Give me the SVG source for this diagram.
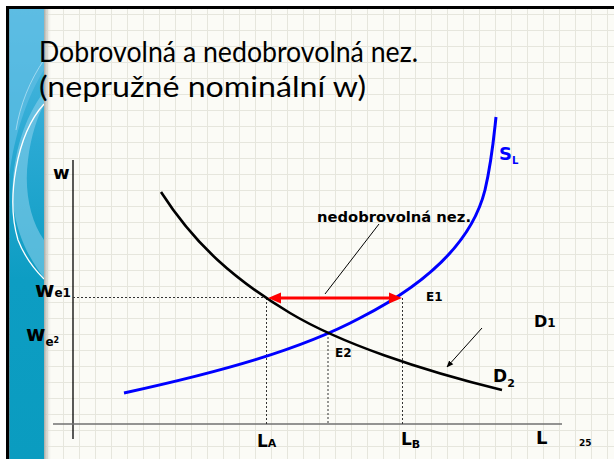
<svg xmlns="http://www.w3.org/2000/svg" width="614" height="459" viewBox="0 0 614 459">
<defs>
<pattern id="grid" patternUnits="userSpaceOnUse" x="47" y="14" width="16" height="16">
<rect x="0" y="0" width="1" height="16" fill="#e6e6dd"/>
<rect x="0" y="0" width="16" height="1" fill="#e6e6dd"/>
</pattern>
<linearGradient id="shadow" x1="0" y1="0" x2="1" y2="0">
<stop offset="0" stop-color="#a9aaa4"/>
<stop offset="1" stop-color="#fbfbf6" stop-opacity="0"/>
</linearGradient>
<linearGradient id="panel" x1="0" y1="0" x2="0" y2="1">
<stop offset="0" stop-color="#58bbe2"/>
<stop offset="0.3" stop-color="#2aa9d3"/>
<stop offset="0.6" stop-color="#0d9dc3"/>
<stop offset="1" stop-color="#0a9cc0"/>
</linearGradient>
<marker id="arr" viewBox="0 0 10 10" refX="9" refY="5" markerWidth="7" markerHeight="7" orient="auto">
<path d="M0,1 L10,5 L0,9 Z" fill="#000"/>
</marker>
<style>
.lbl{font-family:"DejaVu Sans",Verdana,sans-serif;font-weight:bold;fill:#000}
.title{font-family:Lato,"Open Sans",sans-serif;fill:#000}
.dot{stroke:#333;stroke-width:1;stroke-dasharray:2,2;fill:none}
</style>
</defs>
<rect x="0" y="0" width="614" height="459" fill="#ffffff"/>
<rect x="9" y="9" width="605" height="450" fill="#fbfbf6"/>
<rect x="9" y="9" width="605" height="450" fill="url(#grid)"/>
<rect x="6" y="6" width="608" height="3" fill="#000"/>
<rect x="6" y="6" width="3.5" height="453" fill="#000"/>
<g id="panel-deco">
<rect x="9.5" y="9" width="34.5" height="450" fill="url(#panel)"/>
<path d="M9.5,9 H44 V70 C28,95 14,135 9.5,175 Z" fill="#5fbee4" opacity="0.7"/>
<path d="M44,92 C22,120 10,165 13,205 C18,240 32,262 44,278 V240 C30,220 24,190 28,160 C31,135 38,115 44,105 Z" fill="#8fd2ec" opacity="0.55"/>
<path d="M44,104 C16,135 6,200 18,240 C25,258 35,270 44,279" stroke="#ffffff" stroke-width="1.3" fill="none"/>
<path d="M44,60 C30,80 20,105 16,130" stroke="#bfe6f5" stroke-width="1" fill="none" opacity="0.7"/>
<rect x="44" y="9" width="8" height="450" fill="url(#shadow)"/>
</g>
<g id="title">
<text class="title" x="39" y="62" font-size="29" textLength="379" lengthAdjust="spacingAndGlyphs">Dobrovolná a nedobrovolná nez.</text>
<text class="title" x="39" y="97" font-size="29" textLength="327" lengthAdjust="spacingAndGlyphs">(nepružné nominální w)</text>
</g>
<g id="connectors">
<line x1="73" y1="160" x2="73" y2="439" stroke="#000" stroke-width="1.3"/>
<line x1="53" y1="424" x2="562" y2="424" stroke="#707070" stroke-width="1.5"/>
<line class="dot" x1="73" y1="297.5" x2="267" y2="297.5"/>
<line class="dot" x1="266.5" y1="298" x2="266.5" y2="424"/>
<line class="dot" x1="328" y1="333" x2="328" y2="424"/>
<line class="dot" x1="402.5" y1="298" x2="402.5" y2="424"/>
<path id="SL" d="M124,393 C220,372 300,350 360,318 C415,290 470,250 485,190 C492,160 494,135 496,117" stroke="#0000ff" stroke-width="3" fill="none"/>
<path id="D" d="M161,192 C195,245 235,280 290,313 C340,343 420,370 502,390" stroke="#000" stroke-width="2.6" fill="none"/>
<line x1="278" y1="298" x2="390" y2="298" stroke="#ff0000" stroke-width="3"/>
<path d="M268,298 L281,292.5 L281,303.5 Z" fill="#ff0000"/>
<path d="M402,298 L389,292.5 L389,303.5 Z" fill="#ff0000"/>
<line x1="379" y1="224" x2="325" y2="294" stroke="#000" stroke-width="1"/>
<line x1="482" y1="328" x2="447" y2="367" stroke="#000" stroke-width="1" marker-end="url(#arr)"/>
</g>
<g id="labels">
<text class="lbl" x="53" y="179" font-size="18">w</text>
<text class="lbl" x="35" y="297" font-size="21">w<tspan font-size="12">e1</tspan></text>
<text class="lbl" x="26" y="341" font-size="21">w<tspan font-size="12" dy="5">e</tspan><tspan font-size="8" dy="-3">2</tspan></text>
<text class="lbl" x="499" y="160" font-size="18" style="fill:#0000ff">S<tspan font-size="10" dy="4">L</tspan></text>
<text class="lbl" x="317" y="222" font-size="14" textLength="154" lengthAdjust="spacingAndGlyphs">nedobrovolná nez.</text>
<text class="lbl" x="426" y="301" font-size="12">E1</text>
<text class="lbl" x="335" y="357" font-size="12">E2</text>
<text class="lbl" x="534" y="327" font-size="16">D<tspan font-size="12">1</tspan></text>
<text class="lbl" x="493" y="382" font-size="17">D<tspan font-size="11" dy="5">2</tspan></text>
<text class="lbl" x="257" y="447" font-size="17">L<tspan font-size="11">A</tspan></text>
<text class="lbl" x="401" y="445" font-size="17">L<tspan font-size="11" dy="3">B</tspan></text>
<text class="lbl" x="536" y="444" font-size="18">L</text>
<text class="lbl" x="579" y="446" font-size="9">25</text>
</g>
</svg>
